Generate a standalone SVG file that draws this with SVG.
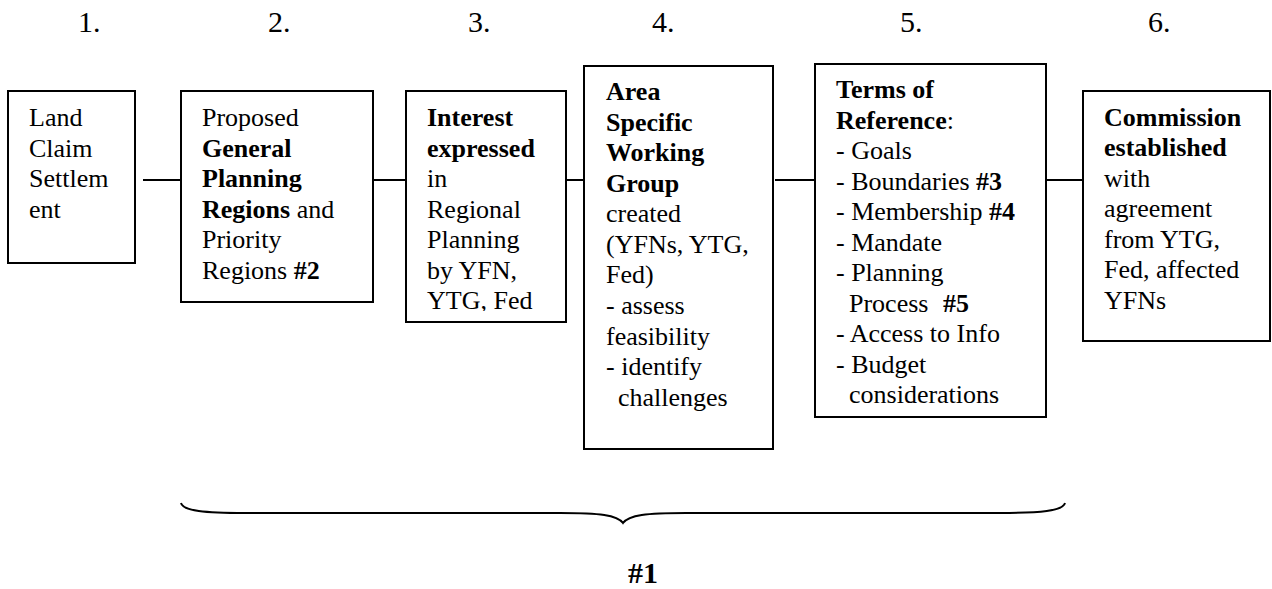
<svg xmlns="http://www.w3.org/2000/svg" width="1272" height="589" viewBox="0 0 1272 589" font-family="'Liberation Serif', Tinos, 'Times New Roman', 'DejaVu Serif', serif">
  <style>
    .box { fill: #fff; stroke: #000; stroke-width: 2; }
    .conn { stroke: #000; stroke-width: 2; fill: none; }
    .t { font-family: 'Liberation Serif', Tinos, 'Times New Roman', 'DejaVu Serif', serif; font-size: 26px; fill: #000; }
    .num { font-family: 'Liberation Serif', Tinos, 'Times New Roman', 'DejaVu Serif', serif; font-size: 30px; fill: #000; }
    .b { font-weight: bold; }
  </style>
  <defs>
    <clipPath id="clip3">
      <rect x="406" y="91" width="160" height="220"/>
    </clipPath>
  </defs>
  <rect width="1272" height="589" fill="#fff"/>

  <g id="step-numbers">
    <text class="num" x="78" y="32">1.</text>
    <text class="num" x="268" y="32">2.</text>
    <text class="num" x="468" y="32">3.</text>
    <text class="num" x="652" y="32">4.</text>
    <text class="num" x="900" y="32">5.</text>
    <text class="num" x="1148" y="32">6.</text>
  </g>

  <g id="connectors">
    <line class="conn" x1="143" y1="180" x2="181" y2="180"/>
    <line class="conn" x1="373" y1="180" x2="406" y2="180"/>
    <line class="conn" x1="566" y1="180" x2="584" y2="180"/>
    <line class="conn" x1="775" y1="180" x2="815" y2="180"/>
    <line class="conn" x1="1046" y1="180" x2="1083" y2="180"/>
  </g>

  <g id="node1">
    <rect class="box" x="8" y="91" width="127" height="172"/>
    <text class="t">
      <tspan x="29" y="126">Land</tspan>
      <tspan x="29" y="156.5">Claim</tspan>
      <tspan x="29" y="187">Settlem</tspan>
      <tspan x="29" y="217.5">ent</tspan>
    </text>
  </g>

  <g id="node2">
    <rect class="box" x="181" y="91" width="192" height="211"/>
    <text class="t">
      <tspan x="202" y="126">Proposed</tspan>
      <tspan x="202" y="156.6" class="b">General</tspan>
      <tspan x="202" y="187.2" class="b">Planning</tspan>
      <tspan x="202" y="217.8"><tspan class="b">Regions</tspan> and</tspan>
      <tspan x="202" y="248.4">Priority</tspan>
      <tspan x="202" y="279">Regions <tspan class="b">#2</tspan></tspan>
    </text>
  </g>

  <g id="node3">
    <rect class="box" x="406" y="91" width="160" height="231"/>
    <text class="t" clip-path="url(#clip3)">
      <tspan x="427" y="126" class="b">Interest</tspan>
      <tspan x="427" y="156.6" class="b">expressed</tspan>
      <tspan x="427" y="187.2">in</tspan>
      <tspan x="427" y="217.8">Regional</tspan>
      <tspan x="427" y="248.4">Planning</tspan>
      <tspan x="427" y="279">by YFN,</tspan>
      <tspan x="427" y="309">YTG, Fed</tspan>
    </text>
  </g>

  <g id="node4">
    <rect class="box" x="584" y="66" width="189" height="383"/>
    <text class="t">
      <tspan x="606" y="100" class="b">Area</tspan>
      <tspan x="606" y="130.6" class="b">Specific</tspan>
      <tspan x="606" y="161.1" class="b">Working</tspan>
      <tspan x="606" y="191.7" class="b">Group</tspan>
      <tspan x="606" y="222.3">created</tspan>
      <tspan x="606" y="252.9">(YFNs, YTG,</tspan>
      <tspan x="606" y="283.4">Fed)</tspan>
      <tspan x="606" y="314">- assess</tspan>
      <tspan x="606" y="344.6">feasibility</tspan>
      <tspan x="606" y="375.1">- identify</tspan>
      <tspan x="618" y="405.7">challenges</tspan>
    </text>
  </g>

  <g id="node5">
    <rect class="box" x="815" y="64" width="231" height="353"/>
    <text class="t">
      <tspan x="836" y="98.3" class="b">Terms of</tspan>
      <tspan x="836" y="128.8"><tspan class="b">Reference</tspan>:</tspan>
      <tspan x="836" y="159.3">- Goals</tspan>
      <tspan x="836" y="189.8">- Boundaries <tspan class="b">#3</tspan></tspan>
      <tspan x="836" y="220.3">- Membership <tspan class="b">#4</tspan></tspan>
      <tspan x="836" y="250.8">- Mandate</tspan>
      <tspan x="836" y="281.3">- Planning</tspan>
      <tspan x="849" y="311.8">Process</tspan><tspan x="943" y="311.8" class="b">#5</tspan>
      <tspan x="836" y="342.3">- Access to Info</tspan>
      <tspan x="836" y="372.8">- Budget</tspan>
      <tspan x="849" y="403.3">considerations</tspan>
    </text>
  </g>

  <g id="node6">
    <rect class="box" x="1083" y="91" width="187" height="250"/>
    <text class="t">
      <tspan x="1104" y="125.5" class="b">Commission</tspan>
      <tspan x="1104" y="156" class="b">established</tspan>
      <tspan x="1104" y="186.5">with</tspan>
      <tspan x="1104" y="217">agreement</tspan>
      <tspan x="1104" y="247.5">from YTG,</tspan>
      <tspan x="1104" y="278">Fed, affected</tspan>
      <tspan x="1104" y="308.5">YFNs</tspan>
    </text>
  </g>

  <g id="brace">
    <path class="conn" d="M181,503 C183,511 205,513 245,513 L560,513 C600,513 617,515 623,523 C629,515 646,513 686,513 L1000,513 C1040,513 1063,511 1065,503"/>
    <text class="num b" x="643" y="583" text-anchor="middle">#1</text>
  </g>
</svg>
